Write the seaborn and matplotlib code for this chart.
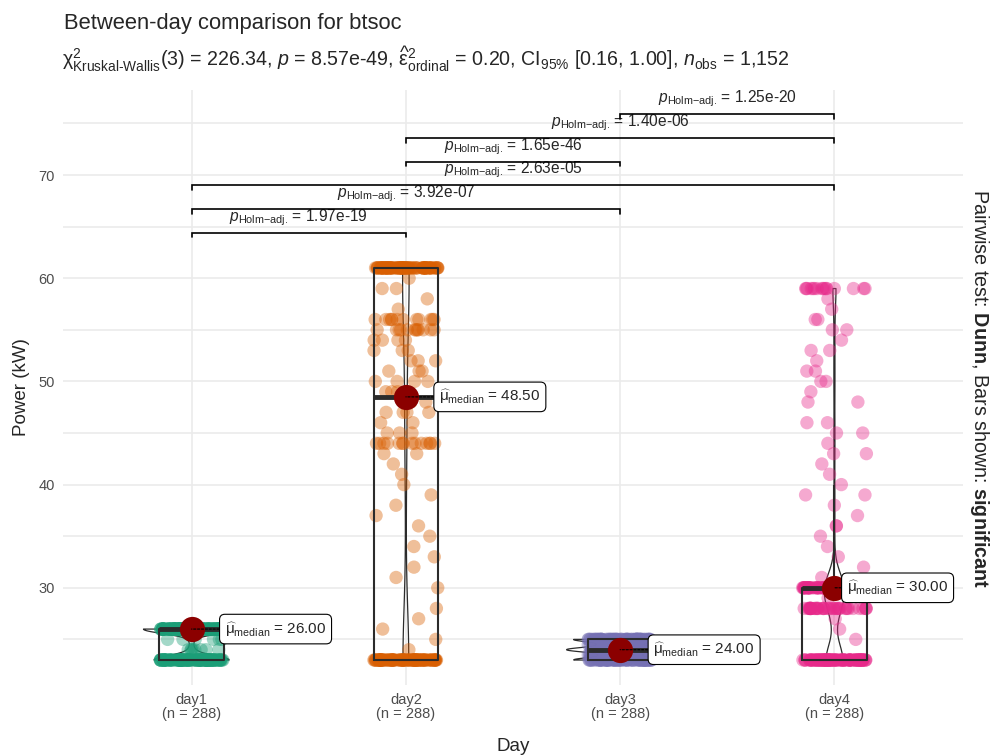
import numpy as np
import pandas as pd
import matplotlib
matplotlib.use("Agg")
import matplotlib.pyplot as plt
from matplotlib.ticker import MultipleLocator
import seaborn as sns

# ---- data -------------------------------------------------------------
days = ["day1", "day2", "day3", "day4"]

# power readings (kW) per day, stored as value -> count
day1_values = [23, 24, 25, 26]
day1_counts = [120, 8, 6, 154]

day2_values = [23, 24, 25, 26, 27, 28, 30, 31, 32, 33, 34, 35, 36, 37, 38, 39,
               40, 41, 42, 43, 44, 45, 46, 47, 48, 49, 50, 51, 52, 53, 54, 55,
               56, 57, 58, 59, 60, 61]
day2_counts = [99, 1, 1, 1, 1, 1, 1, 1, 1, 1, 1, 1, 1, 1, 1, 1,
               1, 1, 1, 2, 14, 3, 2, 4, 2, 3, 4, 3, 3, 3, 4, 12,
               12, 1, 1, 2, 1, 95]

day3_values = [23, 23.5, 24, 24.5, 25]
day3_counts = [75, 25, 85, 28, 75]

day4_values = [23, 25, 26, 27, 28, 29, 30, 31, 32, 33, 34, 35, 36, 37, 38, 39,
               40, 41, 42, 43, 44, 45, 46, 48, 49, 50, 51, 52, 53, 54, 55, 56,
               57, 58, 59]
day4_counts = [95, 1, 1, 1, 40, 1, 95, 1, 1, 1, 1, 1, 2, 1, 1, 2,
               1, 1, 1, 2, 1, 2, 2, 2, 1, 2, 2, 1, 2, 1, 2, 2,
               1, 1, 16]

# pairwise Dunn tests (Holm-adjusted)
pair_a = ["day1", "day1", "day1", "day2", "day2", "day3"]
pair_b = ["day2", "day3", "day4", "day3", "day4", "day4"]
pair_p = ["1.97e-19", "3.92e-07", "2.63e-05", "1.65e-46", "1.40e-06", "1.25e-20"]

title = "Between-day comparison for btsoc"
subtitle = (r"$\mathrm{\chi}^{2}_{\text{Kruskal-Wallis}}$(3) = 226.34, $p$ = 8.57e-49, "
            r"$\widehat{\mathrm{\varepsilon}}^{2}_{\text{ordinal}}$ = 0.20, "
            r"CI$_{\text{95%}}$ [0.16, 1.00], $n_{\text{obs}}$ = 1,152")
p_prefix = "$p_{\\text{Holm\u2212adj.}}$ = "
median_prefix = "$\\widehat{\\mathrm{\\mu}}_{\\text{median}}$ = "
caption = r"Pairwise test: $\mathbf{Dunn}$, Bars shown: $\mathbf{significant}$"

palette = ["#1B9E77", "#D95F02", "#7570B3", "#E7298A"]

# ---- long table -------------------------------------------------------
value_lists = [day1_values, day2_values, day3_values, day4_values]
count_lists = [day1_counts, day2_counts, day3_counts, day4_counts]
frames = []
for d, v, c in zip(days, value_lists, count_lists):
    frames.append(pd.DataFrame({"day": d, "power": np.repeat(v, c).astype(float)}))
df = pd.concat(frames, ignore_index=True)
medians = df.groupby("day")["power"].median().reindex(days).to_numpy()
sizes = df.groupby("day").size().reindex(days).to_numpy()

# ---- style ------------------------------------------------------------
sns.set_theme(style="white")
plt.rcParams["font.family"] = ["Liberation Sans", "DejaVu Sans"]
plt.rcParams["mathtext.fontset"] = "custom"
plt.rcParams["mathtext.rm"] = "Liberation Sans"
plt.rcParams["mathtext.it"] = "Liberation Sans:italic"
plt.rcParams["mathtext.bf"] = "Liberation Sans:bold"

fig = plt.figure(figsize=(9.92, 7.56), dpi=100)
ax = fig.add_axes([63 / 992, 71 / 756, 900 / 992, 595 / 756])


def nrd0(kde):
    """Silverman rule of thumb (R's bw.nrd0) expressed as a scipy factor."""
    x = np.asarray(kde.dataset).ravel()
    sd = x.std(ddof=1)
    q75, q25 = np.percentile(x, [75, 25])
    lo = min(sd, (q75 - q25) / 1.34)
    return 0.9 * lo * len(x) ** -0.2 / sd


np.random.seed(11)
sns.stripplot(data=df, x="day", y="power", hue="day", order=days, hue_order=days,
              palette=palette, jitter=0.15, size=9.6, alpha=0.4, linewidth=0,
              legend=False, ax=ax, zorder=2)
sns.boxplot(data=df, x="day", y="power", order=days, width=0.3, fill=False,
            color="#2b2b2b", showfliers=False, showcaps=False, linewidth=1.5,
            medianprops=dict(linewidth=3.5), ax=ax)
sns.violinplot(data=df, x="day", y="power", order=days, width=0.5, fill=False,
               color="#2b2b2b", inner=None, cut=0, density_norm="area",
               bw_method=nrd0, linewidth=0.9, ax=ax)

# medians
pos = np.arange(len(days))
ax.scatter(pos, medians, s=330, color="#8B0000", zorder=6, linewidth=0)
label_dx = [24, 24, 24, 9]
for i, m in enumerate(medians):
    ax.annotate(median_prefix + f"{m:.2f}",
                xy=(pos[i], m), xytext=(label_dx[i], 0), textcoords="offset points",
                ha="left", va="center", fontsize=11, zorder=7,
                bbox=dict(boxstyle="round,pad=0.35,rounding_size=0.35",
                          fc="white", ec="black", lw=0.8),
                arrowprops=dict(arrowstyle="-", color="black", lw=0.8,
                                linestyle=(0, (2, 1.5)), shrinkA=0, shrinkB=0))

# significance brackets
bar_base, bar_step, tick = 64.4, 2.3, 0.45
for k, (a, b, p) in enumerate(zip(pair_a, pair_b, pair_p)):
    x1, x2 = days.index(a), days.index(b)
    y = bar_base + k * bar_step
    ax.plot([x1, x1, x2, x2], [y - tick, y, y, y - tick], color="black",
            lw=1.2, zorder=4, solid_joinstyle="miter")
    ax.annotate(p_prefix + p, xy=((x1 + x2) / 2, y),
                xytext=(0, 3.5), textcoords="offset points", ha="center",
                va="bottom", fontsize=11.2, zorder=4)

# axes
ax.set_xlim(-0.6, 3.6)
ax.set_ylim(20.58, 78.24)
ax.set_xticks(pos)
ax.set_xticklabels([f"{d}\n(n = {n})" for d, n in zip(days, sizes)],
                   fontsize=10.5, color="#4D4D4D", linespacing=1.0)
ax.yaxis.set_minor_locator(MultipleLocator(5))
ax.set_yticks([30, 40, 50, 60, 70])
ax.tick_params(axis="y", labelsize=10.5, labelcolor="#4D4D4D", length=0, pad=6)
ax.tick_params(axis="x", length=0, pad=6)
ax.tick_params(which="minor", length=0)
ax.grid(True, which="major", color="#EBEBEB", lw=1.2)
ax.grid(True, which="minor", axis="y", color="#EBEBEB", lw=1.2)
ax.set_axisbelow(True)
for s in ax.spines.values():
    s.set_visible(False)
ax.set_xlabel("Day", fontsize=13.5, labelpad=12)
ax.set_ylabel("Power (kW)", fontsize=13.5, labelpad=6)

fig.text(64 / 992, 1 - 29 / 756, title, fontsize=15.8, va="baseline", ha="left")
fig.text(62 / 992, 1 - 67 / 756, subtitle, fontsize=14.1, va="baseline", ha="left")
fig.text(980 / 992, 1 - 389 / 756, caption,
         rotation=270, fontsize=14.2, va="center", ha="center")

fig.savefig("out.png", dpi=100)
